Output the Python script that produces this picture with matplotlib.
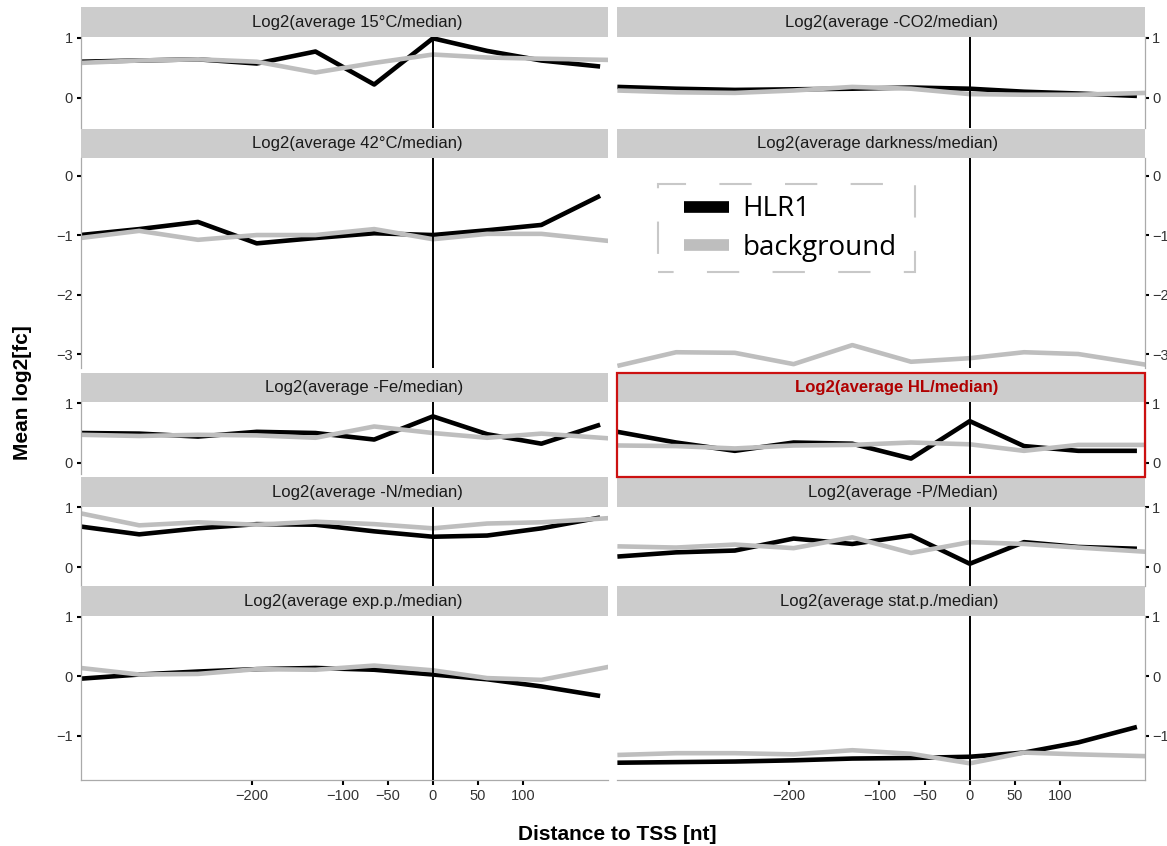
import numpy as np
import matplotlib.pyplot as plt
from matplotlib.lines import Line2D
from matplotlib.patches import Rectangle

plt.rcParams['font.family'] = ['Liberation Sans', 'DejaVu Sans']

# bin positions (distance to TSS, nt)
pos_hlr1 = [-390, -325, -260, -195, -130, -65, 0, 60, 120, 185]
pos_bg = [-390, -325, -260, -195, -130, -65, 0, 60, 120, 195]
xticks = [-200, -100, -50, 0, 50, 100]

# mean log2 fold change per condition, HLR1 targets vs background
hlr1_15c = [0.60, 0.62, 0.64, 0.57, 0.77, 0.22, 0.99, 0.78, 0.62, 0.52]
bg_15c = [0.58, 0.62, 0.64, 0.60, 0.42, 0.58, 0.72, 0.67, 0.65, 0.63]
hlr1_co2 = [0.18, 0.15, 0.13, 0.14, 0.15, 0.17, 0.15, 0.10, 0.07, 0.03]
bg_co2 = [0.12, 0.09, 0.08, 0.12, 0.18, 0.15, 0.06, 0.05, 0.05, 0.08]
hlr1_42c = [-1.00, -0.90, -0.78, -1.14, -1.05, -0.97, -1.00, -0.92, -0.83, -0.34]
bg_42c = [-1.05, -0.93, -1.08, -1.00, -1.00, -0.90, -1.07, -0.98, -0.98, -1.10]
hlr1_dark = [np.nan] * 10  # off the shown range
bg_dark = [-3.20, -2.97, -2.98, -3.17, -2.85, -3.13, -3.07, -2.97, -3.00, -3.18]
hlr1_fe = [0.50, 0.49, 0.44, 0.52, 0.50, 0.39, 0.78, 0.48, 0.32, 0.64]
bg_fe = [0.47, 0.45, 0.47, 0.46, 0.42, 0.61, 0.50, 0.42, 0.49, 0.41]
hlr1_hl = [0.52, 0.34, 0.20, 0.34, 0.32, 0.07, 0.70, 0.28, 0.20, 0.20]
bg_hl = [0.29, 0.28, 0.24, 0.29, 0.30, 0.34, 0.31, 0.20, 0.30, 0.30]
hlr1_n = [0.68, 0.55, 0.65, 0.72, 0.71, 0.60, 0.51, 0.53, 0.65, 0.83]
bg_n = [0.90, 0.70, 0.75, 0.71, 0.76, 0.72, 0.65, 0.73, 0.75, 0.82]
hlr1_p = [0.18, 0.25, 0.28, 0.48, 0.39, 0.53, 0.06, 0.42, 0.34, 0.31]
bg_p = [0.35, 0.33, 0.38, 0.32, 0.50, 0.24, 0.42, 0.39, 0.33, 0.26]
hlr1_exp = [-0.04, 0.03, 0.08, 0.12, 0.14, 0.11, 0.03, -0.05, -0.17, -0.33]
bg_exp = [0.14, 0.03, 0.04, 0.12, 0.11, 0.18, 0.10, -0.03, -0.06, 0.16]
hlr1_stat = [-1.45, -1.44, -1.43, -1.41, -1.38, -1.37, -1.35, -1.28, -1.11, -0.85]
bg_stat = [-1.32, -1.29, -1.29, -1.31, -1.24, -1.30, -1.46, -1.28, -1.31, -1.34]

titles = ['Log2(average 15°C/median)', 'Log2(average -CO2/median)',
          'Log2(average 42°C/median)', 'Log2(average darkness/median)',
          'Log2(average -Fe/median)', 'Log2(average HL/median)',
          'Log2(average -N/median)', 'Log2(average -P/Median)',
          'Log2(average exp.p./median)', 'Log2(average stat.p./median)']
hlr1_all = [hlr1_15c, hlr1_co2, hlr1_42c, hlr1_dark, hlr1_fe,
            hlr1_hl, hlr1_n, hlr1_p, hlr1_exp, hlr1_stat]
bg_all = [bg_15c, bg_co2, bg_42c, bg_dark, bg_fe,
          bg_hl, bg_n, bg_p, bg_exp, bg_stat]

row_ylims = [(-0.505, 1.017), (-3.23, 0.29), (-0.19, 1.017), (-0.31, 1.01), (-1.74, 1.017)]
row_yticks = [[0, 1], [-3, -2, -1, 0], [0, 1], [0, 1], [-1, 0, 1]]

W, H = 1167, 846
fig = plt.figure(figsize=(W / 100, H / 100), dpi=100)


def box(x0, x1, y0, y1):
    return [x0 / W, 1 - y1 / H, (x1 - x0) / W, (y1 - y0) / H]


cols = [(80.5, 607.8), (617.4, 1144.6)]
strip_text_right = [463, 998]  # labels sit right-aligned in the strips
rows = [(36.7, 128), (158.3, 367.7), (402.3, 474), (506.7, 586), (615.7, 780)]
strip_h = 29.3
spine_col = '#aaaaaa'

for i, title in enumerate(titles):
    r, c = divmod(i, 2)
    x0, x1 = cols[c]
    top, bot = rows[r]

    # strip
    sax = fig.add_axes(box(x0, x1, top - strip_h, top))
    sax.set_facecolor('#cccccc')
    sax.set_xticks([])
    sax.set_yticks([])
    for s in sax.spines.values():
        s.set_visible(False)
    highlight = title == 'Log2(average HL/median)'
    sax.text((strip_text_right[c] - x0) / (x1 - x0), 0.5, title, ha='right', va='center',
             fontsize=12, color='#b00000' if highlight else '#1a1a1a',
             fontweight='bold' if highlight else 'normal',
             transform=sax.transAxes)

    ax = fig.add_axes(box(x0, x1, top, bot))
    ax.plot(pos_hlr1, hlr1_all[i], color='black', lw=3.3,
            solid_capstyle='butt', solid_joinstyle='round')
    ax.plot(pos_bg, bg_all[i], color='#bebebe', lw=3.3,
            solid_capstyle='butt', solid_joinstyle='round')
    ax.axvline(0, color='black', lw=1.4, zorder=5)
    ax.set_xlim(-390, 193.5)
    ax.set_ylim(*row_ylims[r])
    ax.set_yticks(row_yticks[r])

    ax.spines['top'].set_visible(False)
    if c == 0:
        ax.spines['right'].set_visible(False)
    else:
        ax.spines['left'].set_visible(False)
        ax.yaxis.tick_right()
    for s in ax.spines.values():
        s.set_color(spine_col)
        s.set_linewidth(0.9)
    ax.tick_params(axis='y', length=3, width=1.5, color='black',
                   labelsize=10.5, labelcolor='#333333', pad=2.5)

    if r == len(rows) - 1:
        ax.set_xticks(xticks)
        ax.tick_params(axis='x', length=3.5, width=1.5, color='black',
                       labelsize=10.5, labelcolor='#333333', pad=3)
    else:
        ax.spines['bottom'].set_visible(False)
        ax.set_xticks([])

# highlight box around the HL panel
fig.add_artist(Rectangle((617 / W, 1 - 477 / H), (1145 - 617) / W, (477 - 373) / H,
                         transform=fig.transFigure, fill=False,
                         edgecolor='#cc1111', lw=1.6, zorder=10))

fig.text(23 / W, 1 - 393 / H, 'Mean log2[fc]', rotation=90, ha='center', va='center',
         fontsize=15, fontweight='bold')
fig.text(617.5 / W, 1 - 834 / H, 'Distance to TSS [nt]', ha='center', va='center',
         fontsize=15, fontweight='bold')

# legend without frame, dashed box drawn separately
handles = [Line2D([], [], color='black', lw=8.4, solid_capstyle='butt'),
           Line2D([], [], color='#bebebe', lw=8.4, solid_capstyle='butt')]
fig.legend(handles, ['HLR1', 'background'], loc='upper left',
           bbox_to_anchor=(683.7 / W, 1 - 195.5 / H), borderaxespad=0,
           prop={'family': 'Open Sans', 'size': 20}, frameon=False,
           borderpad=0, handlelength=1.62, handletextpad=0.5,
           labelspacing=0.38)
fig.add_artist(Rectangle((657.5 / W, 1 - 271.7 / H), (915 - 657.5) / W, (271.7 - 184) / H,
                         transform=fig.transFigure, fill=False,
                         edgecolor='#c8c8c8', lw=1.5, linestyle=(8, (15.5, 16)),
                         zorder=10))

fig.savefig('out.png', dpi=100)
